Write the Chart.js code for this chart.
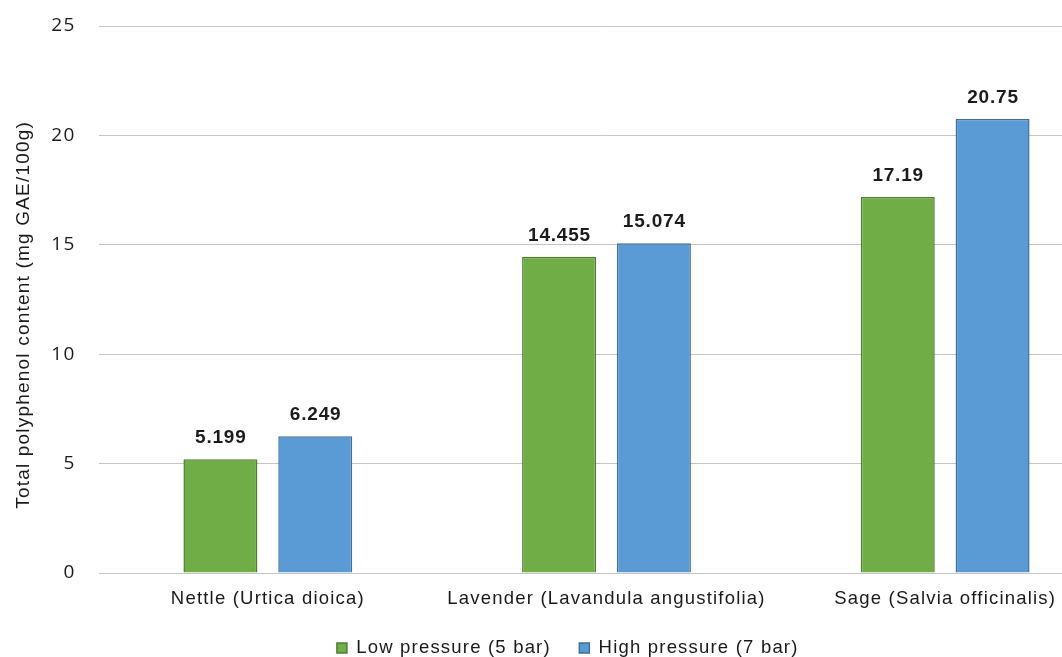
<!DOCTYPE html>
<html><head><meta charset="utf-8">
<script src="https://cdn.jsdelivr.net/npm/chart.js@4.4.0/dist/chart.umd.min.js"></script>
<style>html,body{margin:0;padding:0;overflow:hidden;background:#fff;width:1062px;height:657px}
#wrap{position:absolute;left:0;top:0;width:1120px;height:657px}</style>
</head><body><div id="wrap"><canvas id="c" width="1120" height="657"></canvas></div>
<script>
const categories = ['Nettle (Urtica dioica)', 'Lavender (Lavandula angustifolia)', 'Sage (Salvia officinalis)'];
const seriesNames = ['Low pressure (5 bar)', 'High pressure (7 bar)'];
const lowPressure = [5.199, 14.455, 17.19];
const highPressure = [6.249, 15.074, 20.75];
const yTicks = [0, 5, 10, 15, 20, 25];
const yTitle = 'Total polyphenol content (mg GAE/100g)';

const ARIAL = '"Liberation Sans", Arial, sans-serif';
const TEXT = '#1a1a1a';

const spacing = {
  id: 'spacing',
  beforeLayout(c) { c.ctx.letterSpacing = '1.2px'; },
  beforeDraw(c) { c.ctx.letterSpacing = '1.2px'; }
};

const yTitlePlugin = {
  id: 'yTitlePlugin',
  afterDraw(c) {
    const ctx = c.ctx, a = c.chartArea;
    ctx.save();
    ctx.letterSpacing = '1.2px';
    ctx.font = '19px ' + ARIAL;
    ctx.fillStyle = TEXT;
    ctx.textAlign = 'center';
    ctx.textBaseline = 'middle';
    ctx.translate(24, (a.top + a.bottom) / 2 + 16);
    ctx.rotate(-Math.PI / 2);
    ctx.fillText(yTitle, 0.6, 0);
    ctx.restore();
  }
};

const valueLabels = {
  id: 'valueLabels',
  afterDatasetsDraw(c) {
    const ctx = c.ctx;
    ctx.save();
    ctx.letterSpacing = '0.8px';
    ctx.font = 'bold 19px ' + ARIAL;
    ctx.fillStyle = '#1c1c1c';
    ctx.textAlign = 'center';
    ctx.textBaseline = 'alphabetic';
    c.data.datasets.forEach((ds, i) => {
      c.getDatasetMeta(i).data.forEach((bar, j) => {
        ctx.fillText(String(ds.data[j]), bar.x + 0.4, bar.y - 16);
      });
    });
    ctx.restore();
  }
};

new Chart(document.getElementById('c'), {
  type: 'bar',
  data: {
    labels: categories,
    datasets: [
      { label: seriesNames[0], data: lowPressure, backgroundColor: '#70AD47', borderColor: '#4E7D30', borderWidth: 1.5 },
      { label: seriesNames[1], data: highPressure, backgroundColor: '#5B9BD5', borderColor: '#3F6F9C', borderWidth: 1.5 }
    ]
  },
  options: {
    responsive: false,
    animation: false,
    devicePixelRatio: 1,
    datasets: { bar: { barPercentage: 0.78, categoryPercentage: 0.56 } },
    layout: { padding: { left: 21, right: 5.5, top: 26, bottom: 0 } },
    scales: {
      x: {
        grid: { display: false, drawTicks: false },
        border: { display: false },
        ticks: { color: TEXT, font: { family: ARIAL, size: 18.5 }, padding: 15, maxRotation: 0, autoSkip: false },
        afterFit(s) { s.height = 37.25; }
      },
      y: {
        min: 0, max: 25,
        afterBuildTicks(s) { s.ticks = yTicks.map(v => ({ value: v })); },
        grid: { color: '#c4c4c4', lineWidth: 1, drawTicks: false },
        border: { display: false },
        ticks: { color: TEXT, font: { family: '"Open Sans", sans-serif', size: 19 }, padding: 23 },
        title: { display: false },
        afterFit(s) { s.width = 77.5; s.paddingTop = 0; s.paddingBottom = 0; }
      }
    },
    plugins: {
      legend: {
        position: 'bottom',
        maxHeight: 46.75,
        labels: { boxWidth: 10, boxHeight: 10, color: TEXT, font: { family: ARIAL, size: 18.5 }, padding: 28.5 }
      },
      tooltip: { enabled: false }
    }
  },
  plugins: [spacing, valueLabels, yTitlePlugin]
});
</script></body></html>
